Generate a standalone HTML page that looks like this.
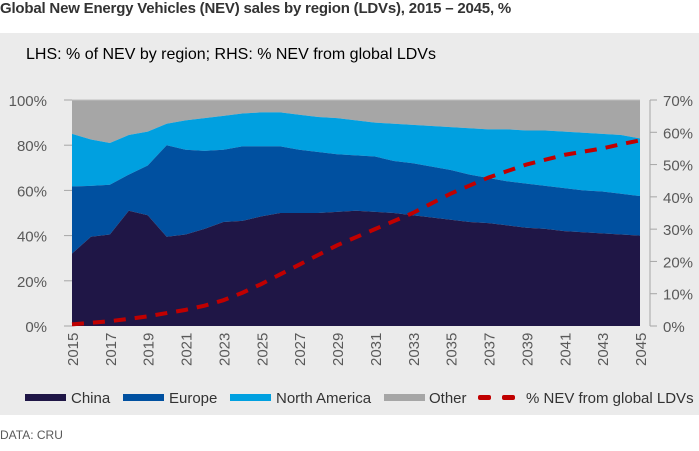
<!DOCTYPE html>
<html><head><meta charset="utf-8"><style>
body{margin:0;width:699px;height:451px;background:#fff;font-family:"Liberation Sans",sans-serif;overflow:hidden;position:relative}
.t{position:absolute;white-space:nowrap}
</style></head><body>
<div class="t" style="left:0;top:1;font-size:15px;font-weight:bold;color:#333;letter-spacing:-0.2px">Global New Energy Vehicles (NEV) sales by region (LDVs), 2015 – 2045, %</div>
<div style="position:absolute;left:0;top:33px;width:699px;height:382px;background:#ebebeb"></div>
<div class="t" style="left:26px;top:46px;font-size:16px;color:#000">LHS: % of NEV by region; RHS: % NEV from global LDVs</div>
<svg id="c" width="699" height="451" style="position:absolute;left:0;top:0"></svg>
<div class="t" style="left:0;top:428px;font-size:12px;color:#595959">DATA: CRU</div>
<script>
const years=[2015,2016,2017,2018,2019,2020,2021,2022,2023,2024,2025,2026,2027,2028,2029,2030,2031,2032,2033,2034,2035,2036,2037,2038,2039,2040,2041,2042,2043,2044,2045];
const chinaCum=[32,39.5,40.5,51,49,39.5,40.5,43,46,46.5,48.5,50,50,50,50.5,51,50.5,50,49,48,47,46,45.5,44.5,43.5,43,42,41.5,41,40.5,40];
const europeCum=[61.7,62,62.5,67,71,80,78,77.5,78,79.5,79.5,79.5,78,77,76,75.5,75,73,72,70.5,69,67,65.5,64,63,62,61,60,59.5,58.5,57.5];
const naCum=[85,82.5,81,84.5,86,89.5,91,92,93,94,94.5,94.5,93.5,92.5,92,91,90,89.5,89,88.5,88,87.5,87,87,86.5,86.5,86,85.5,85,84.5,83];
const nevShare=[0.5,1,1.5,2.2,3,4,5,6.3,8,10.3,13,16,19,22,25,27.5,30,32.5,35,38,41,43.5,46,48,50,51.5,53,54,55,56.3,57.5];
const leftTicks=[0,20,40,60,80,100];
const rightTicks=[0,10,20,30,40,50,60,70];
const NS='http://www.w3.org/2000/svg',svg=document.getElementById('c');
const X0=72,X1=640,Y0=326,Y1=100;
const x=i=>X0+(X1-X0)*i/(years.length-1);
const yL=v=>Y0-(Y0-Y1)*v/100;
const yR=v=>Y0-(Y0-Y1)*v/70;
function el(tag,a){const e=document.createElementNS(NS,tag);for(const k in a)e.setAttribute(k,a[k]);svg.appendChild(e);return e;}
function area(top,bot,fill,name){
 let d='M'+years.map((_,i)=>x(i)+','+yL(top[i])).join('L');
 for(let i=years.length-1;i>=0;i--)d+='L'+x(i)+','+yL(bot?bot[i]:0);
 const p=el('path',{d:d+'Z',fill:fill});
 
 
}
const zeros=years.map(()=>0),hund=years.map(()=>100);
area(hund,naCum,'#a6a6a6','area-other');
area(naCum,europeCum,'#00a0e0','area-north-america');
area(europeCum,chinaCum,'#0050a0','area-europe');
area(chinaCum,zeros,'#1f1646','area-china');
el('line',{x1:64,x2:X1,y1:Y1,y2:Y1,stroke:'#bfbfbf'});
leftTicks.forEach(v=>{
 el('line',{x1:64,x2:72,y1:yL(v),y2:yL(v),stroke:'#a6a6a6'});
 const t=el('text',{x:47,y:yL(v)+6,'text-anchor':'end','font-size':15,fill:'#595959'});t.textContent=v+'%';
 
 
});
el('line',{x1:650,x2:650,y1:Y1,y2:Y0,stroke:'#a6a6a6'});
rightTicks.forEach(v=>{
 el('line',{x1:650,x2:657,y1:yR(v),y2:yR(v),stroke:'#a6a6a6'});
 const t=el('text',{x:663,y:yR(v)+6,'font-size':15,fill:'#595959'});t.textContent=v+'%';
 
 
});
years.forEach((yr,i)=>{if(i%2)return;
 const t=el('text',{transform:`translate(${x(i)+6},366) rotate(-90)`,'font-size':15,fill:'#595959'});t.textContent=yr;
 
 
});
const ln=el('polyline',{points:years.map((_,i)=>x(i)+','+yR(nevShare[i])).join(' '),fill:'none',stroke:'#c00000','stroke-width':4,'stroke-dasharray':'12,9'});


// legend: [label,color,markerX,textX]
const leg=[['China','#1f1646',25,71],['Europe','#0050a0',123,169],['North America','#00a0e0',230,276],['Other','#a6a6a6',384,429],['% NEV from global LDVs','#c00000',478,526]];
leg.forEach(([n,c,lx,tx])=>{
 const g=el('g',{});
 
 
 if(c!=='#c00000'){const r=document.createElementNS(NS,'rect');r.setAttribute('x',lx);r.setAttribute('y',394);r.setAttribute('width',41);r.setAttribute('height',7);r.setAttribute('fill',c);g.appendChild(r);}
 else{[0,24].forEach(o=>{const r=document.createElementNS(NS,'rect');r.setAttribute('x',lx+o);r.setAttribute('y',395);r.setAttribute('width',13);r.setAttribute('height',5);r.setAttribute('rx',2);r.setAttribute('fill',c);g.appendChild(r);});}
 const t=document.createElementNS(NS,'text');t.setAttribute('x',tx);t.setAttribute('y',403);t.setAttribute('font-size',15);t.setAttribute('fill','#333');t.textContent=n;g.appendChild(t);
});
</script>
</body></html>
